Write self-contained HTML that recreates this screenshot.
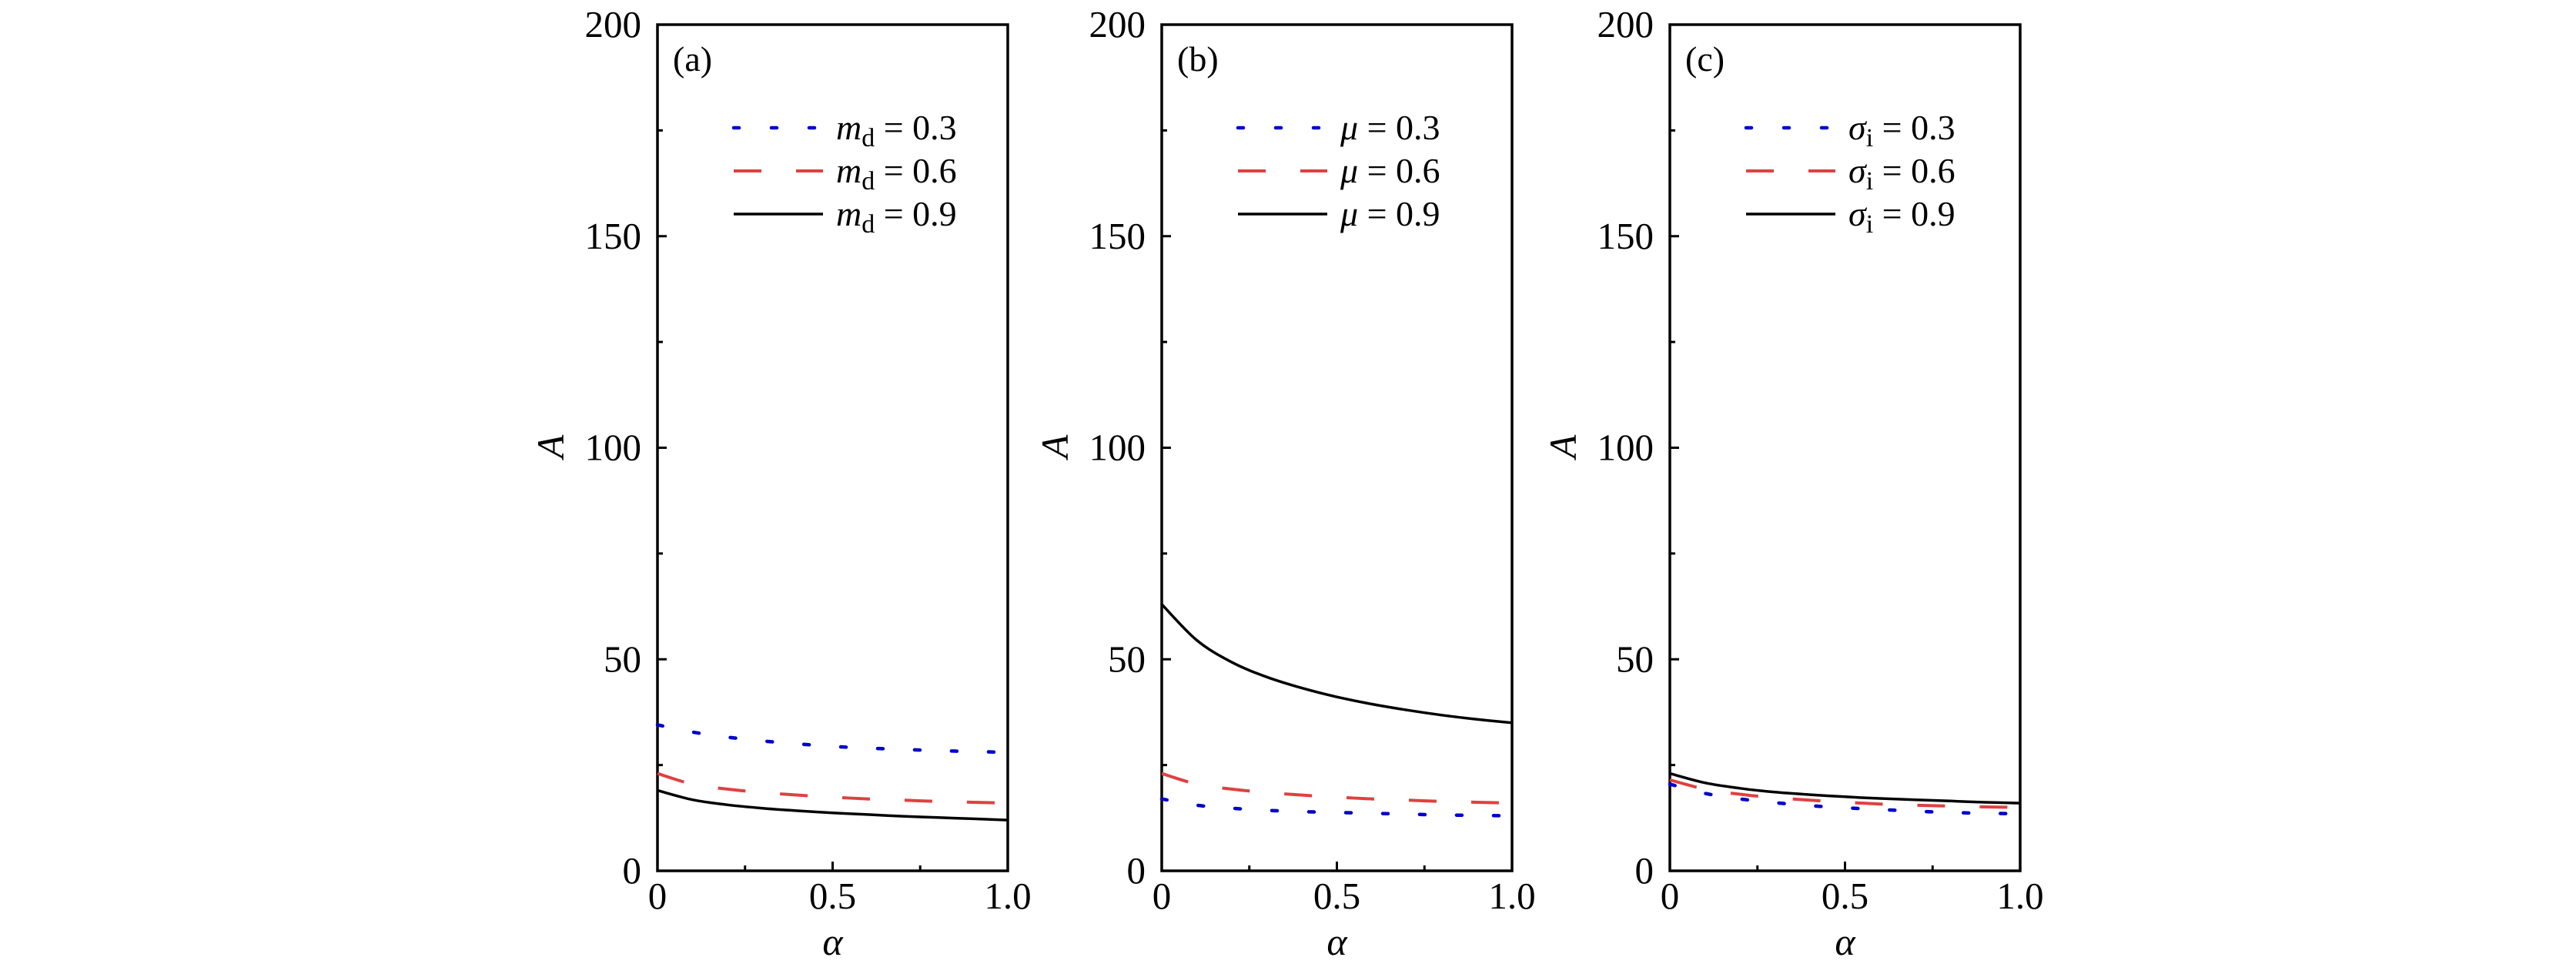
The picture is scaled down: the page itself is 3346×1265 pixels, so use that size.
<!DOCTYPE html>
<html><head><meta charset="utf-8"><style>
html,body{margin:0;padding:0;background:#fff}
svg text{font-family:"Liberation Serif","DejaVu Serif",serif;fill:#000}
</style></head><body>
<svg id="chart" width="3346" height="1260" viewBox="0 0 3346 1260" xmlns="http://www.w3.org/2000/svg"></svg>
<script>
const alphaVals=[0,0.1,0.2,0.3,0.4,0.5,0.6,0.7,0.8,0.9,1.0];
const aBlue=[34.5,32.8,31.6,30.7,30,29.4,29,28.7,28.4,28.2,28];
const aRed=[23,20.5,19.3,18.5,17.9,17.4,17,16.7,16.4,16.2,16];
const aBlack=[19,16.8,15.6,14.8,14.2,13.7,13.3,12.9,12.6,12.3,12];
const bBlue=[17,15.5,14.8,14.3,14,13.8,13.6,13.4,13.2,13.1,13];
const bRed=[23,20.5,19.3,18.5,17.9,17.4,17,16.7,16.4,16.2,16];
const bBlack=[63,54.5,49.3,45.8,43.2,41.1,39.4,38,36.8,35.8,35];
const cBlue=[20.5,18.3,17,16.1,15.4,14.9,14.5,14.1,13.8,13.6,13.5];
const cRed=[21.5,19.3,18.1,17.3,16.7,16.2,15.8,15.5,15.3,15.1,15];
const cBlack=[23,20.8,19.5,18.6,18,17.5,17.1,16.8,16.5,16.2,16];
const yTicks=[0,50,100,150,200];
const xTicks=[0,0.5,1.0];
const xTickLabels=["0","0.5","1.0"];
const panelLabels=["(a)","(b)","(c)"];
const legendSym=["m","μ","σ"];
const legendSub=["d","","i"];
const legendVals=["0.3","0.6","0.9"];

const NS="http://www.w3.org/2000/svg";
const svg=document.getElementById('chart');
function mk(tag,attrs,parent){const e=document.createElementNS(NS,tag);for(const k in attrs)e.setAttribute(k,attrs[k]);(parent||svg).appendChild(e);return e;}
function smooth(pts){
  let d='M'+pts[0][0].toFixed(1)+' '+pts[0][1].toFixed(1);
  for(let i=0;i<pts.length-1;i++){
    const p0=pts[Math.max(0,i-1)],p1=pts[i],p2=pts[i+1],p3=pts[Math.min(pts.length-1,i+2)];
    const c1=[p1[0]+(p2[0]-p0[0])/6,p1[1]+(p2[1]-p0[1])/6];
    const c2=[p2[0]-(p3[0]-p1[0])/6,p2[1]-(p3[1]-p1[1])/6];
    d+=` C${c1[0].toFixed(1)} ${c1[1].toFixed(1)} ${c2[0].toFixed(1)} ${c2[1].toFixed(1)} ${p2[0].toFixed(1)} ${p2[1].toFixed(1)}`;
  }
  return d;
}
const panels=[{x0:854,series:[aBlue,aRed,aBlack]},{x0:1509,series:[bBlue,bRed,bBlack]},{x0:2169,series:[cBlue,cRed,cBlack]}];
const W=455,T=32,B=1131;
const styles=[{c:"#0000cc",d:"7 41",w:4.5},{c:"#e04040",d:"36 45",w:4},{c:"#000",d:"",w:3.5}];
panels.forEach((p,pi)=>{
  const g=mk('g',{});
  
  
  const xs=v=>p.x0+v*W, ys=v=>B-(v/200)*(B-T);
  const frame=mk('rect',{x:p.x0,y:T,width:W,height:B-T,fill:'none',stroke:'#000','stroke-width':3.5},g);
  
  
  for(let v=0;v<=200;v+=25){const len=v%50===0?12:7;mk('line',{x1:p.x0,x2:p.x0+len,y1:ys(v),y2:ys(v),stroke:'#000','stroke-width':3},g);}
  for(let v=0;v<=1.0001;v+=0.25){const len=Math.abs(v*2-Math.round(v*2))<1e-6?12:7;mk('line',{x1:xs(v),x2:xs(v),y1:B,y2:B-len,stroke:'#000','stroke-width':3},g);}
  yTicks.forEach(v=>{const t=mk('text',{x:p.x0-21,y:ys(v)+16,'text-anchor':'end','font-size':49},g);t.textContent=v;
    });
  xTicks.forEach((v,i)=>{const t=mk('text',{x:xs(v),y:1180,'text-anchor':'middle','font-size':49},g);t.textContent=xTickLabels[i];
    });
  const yl=mk('text',{x:0,y:0,'text-anchor':'middle','font-size':50,'font-style':'italic',transform:`translate(${p.x0-122},580) rotate(-90)`},g);yl.textContent='A';
  
  const xl=mk('text',{x:xs(0.5),y:1240,'text-anchor':'middle','font-size':50,'font-style':'italic'},g);xl.textContent='α';
  
  const pl=mk('text',{x:p.x0+20,y:92,'font-size':46},g);pl.textContent=panelLabels[pi];
  
  p.series.forEach((s,si)=>{
    const st=styles[si];
    const pts=s.map((v,i)=>[xs(alphaVals[i]),ys(v)]);
    const path=mk('path',{d:smooth(pts),fill:'none',stroke:st.c,'stroke-width':st.w,'stroke-dasharray':st.d,'stroke-linecap':si===0?'round':'butt'},g);
    
    
    const ly=166+si*56;
    const ll=mk('line',{x1:p.x0+99,x2:p.x0+215,y1:ly,y2:ly,stroke:st.c,'stroke-width':st.w,'stroke-dasharray':si===0?'7 42':(si===1?'36 45':''),'stroke-linecap':si===0?'round':'butt'},g);
    
    const lt=mk('text',{x:p.x0+232,y:ly+15,'font-size':46},g);
    
    const s1=mk('tspan',{'font-style':'italic'},lt);s1.textContent=legendSym[pi];
    if(legendSub[pi]){const s2=mk('tspan',{'font-size':34,dy:9},lt);s2.textContent=legendSub[pi];
      const s3=mk('tspan',{dy:-9},lt);s3.textContent=' = '+legendVals[si];}
    else{const s3=mk('tspan',{},lt);s3.textContent=' = '+legendVals[si];}
  });
});
</script>
</body></html>
